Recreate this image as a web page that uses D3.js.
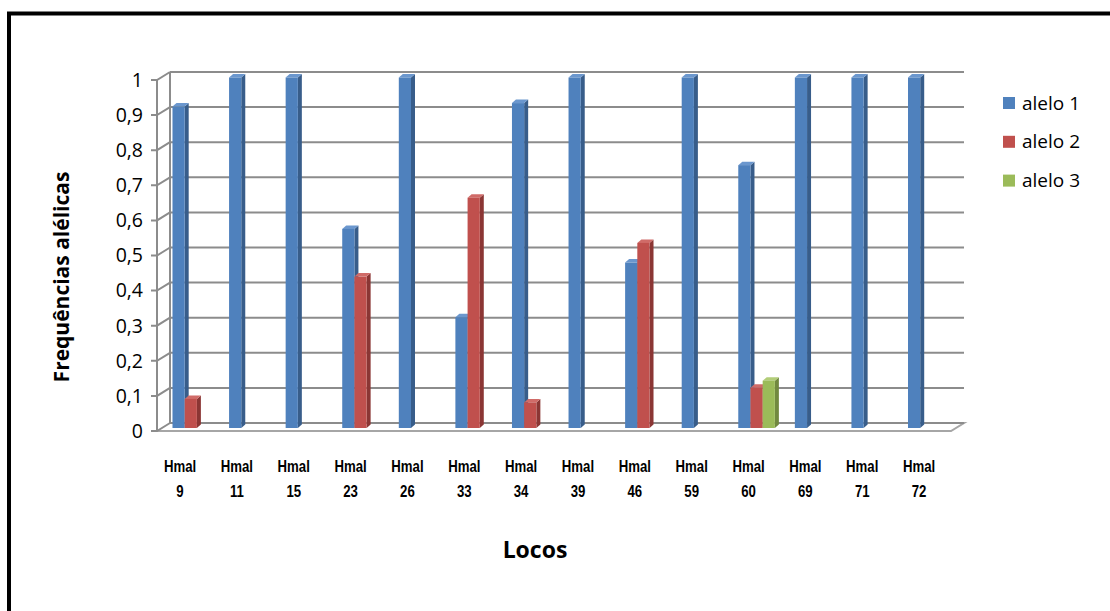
<!DOCTYPE html>
<html>
<head>
<meta charset="utf-8">
<script src="https://cdn.jsdelivr.net/npm/d3@7"></script>
<style>
html,body{margin:0;padding:0;background:#fff;}
svg{display:block;}
</style>
</head>
<body>
<svg id="chart" width="1110" height="611"></svg>
<script>
const categories = ["Hmal 9","Hmal 11","Hmal 15","Hmal 23","Hmal 26","Hmal 33","Hmal 34","Hmal 39","Hmal 46","Hmal 59","Hmal 60","Hmal 69","Hmal 71","Hmal 72"];
const seriesNames = ["alelo 1","alelo 2","alelo 3"];
const alelo1 = [0.917, 1, 1, 0.568, 1, 0.316, 0.927, 1, 0.472, 1, 0.75, 1, 1, 1];
const alelo2 = [0.083, 0, 0, 0.432, 0, 0.657, 0.073, 0, 0.528, 0, 0.115, 0, 0, 0];
const alelo3 = [0, 0, 0, 0, 0, 0, 0, 0, 0, 0, 0.135, 0, 0, 0];
const yTicks = [0,0.1,0.2,0.3,0.4,0.5,0.6,0.7,0.8,0.9,1];
const yTickLabels = ["0","0,1","0,2","0,3","0,4","0,5","0,6","0,7","0,8","0,9","1"];
const yTitle = "Frequências alélicas";
const xTitle = "Locos";

const colors = {
  "alelo 1": {front:"#4F81BD", side:"#385D8A", top:"#6B97CE"},
  "alelo 2": {front:"#C0504D", side:"#8B3634", top:"#D06B68"},
  "alelo 3": {front:"#9BBB59", side:"#71893F", top:"#B2CD78"}
};
const values = {"alelo 1": alelo1, "alelo 2": alelo2, "alelo 3": alelo3};

const svg = d3.select("#chart");

// outer frame
svg.append("rect").attr("x",9).attr("y",13.5).attr("width",1300).attr("height",800)
  .attr("fill","none").attr("stroke","#000").attr("stroke-width",4);

// geometry
const frontX = 157, backX = 170, rightBack = 964;
const depthDX = backX - frontX, depthDY = -8;
const yFront = d3.scaleLinear().domain([0,1]).range([431,80]);
const yBack = v => yFront(v) + depthDY;
const yBar = d3.scaleLinear().domain([0,1]).range([428,77.5]);
const xLabel = d3.scaleBand().domain(categories).range([151.6, 947.5]);
const xBar = d3.scaleBand().domain(categories).range([162.5, 954.6]);
const xSeries = d3.scaleBand().domain(seriesNames).range([0, 36.6]);
const gridColor = "#8c8c8c";

// floor
svg.append("path")
  .attr("d", `M${frontX},${yFront(0)} L${rightBack-depthDX},${yFront(0)} L${rightBack},${yBack(0)} L${backX},${yBack(0)}`)
  .attr("fill","none").attr("stroke","#a6a6a6").attr("stroke-width",2);

// back wall gridlines
svg.append("g").selectAll("line").data(yTicks).join("line")
  .attr("x1",backX).attr("x2",rightBack)
  .attr("y1",d=>yBack(d)).attr("y2",d=>yBack(d))
  .attr("stroke",gridColor).attr("stroke-width",2);

// left wall verticals
svg.append("line").attr("x1",backX).attr("x2",backX).attr("y1",yBack(1)).attr("y2",yBack(0))
  .attr("stroke",gridColor).attr("stroke-width",2);
svg.append("line").attr("x1",frontX).attr("x2",frontX).attr("y1",yFront(1)).attr("y2",yFront(0))
  .attr("stroke",gridColor).attr("stroke-width",2);

// ticks + side wall diagonals
const tg = svg.append("g");
tg.selectAll("path").data(yTicks).join("path")
  .attr("d",d=>`M${frontX-6},${yFront(d)} L${frontX},${yFront(d)} L${backX},${yBack(d)}`)
  .attr("fill","none").attr("stroke",gridColor).attr("stroke-width",2);
tg.selectAll("text").data(yTicks).join("text")
  .attr("x",143).attr("y",d=>yFront(d)).attr("dy","0.35em")
  .attr("text-anchor","end")
  .attr("font-family","'Open Sans', 'Noto Sans', sans-serif")
  .attr("font-size",19.5).attr("fill","#000")
  .text((d,i)=>yTickLabels[i]);

// bars
const dx = 4, dy = -3.5;
const barData = [];
categories.forEach((c,i)=>{
  seriesNames.forEach(s=>{
    const v = values[s][i];
    if (v > 0) barData.push({cat:c, s, v});
  });
});
const bw = xSeries.bandwidth();
const groupOffset = (xBar.bandwidth() - 36.6)/2;
svg.append("g").selectAll("g").data(barData).join("g").each(function(d){
  const g = d3.select(this);
  const x0 = xBar(d.cat) + groupOffset + xSeries(d.s);
  const yt = yBar(d.v), yb = yBar(0);
  const col = colors[d.s];
  g.append("path")
    .attr("d",`M${x0+bw},${yt} L${x0+bw+dx},${yt+dy} L${x0+bw+dx},${yb+dy} L${x0+bw},${yb} Z`)
    .attr("fill",col.side);
  g.append("path")
    .attr("d",`M${x0},${yt} L${x0+dx},${yt+dy} L${x0+bw+dx},${yt+dy} L${x0+bw},${yt} Z`)
    .attr("fill",col.top);
  g.append("rect").attr("x",x0).attr("y",yt).attr("width",bw).attr("height",yb-yt)
    .attr("fill",col.front);
});

// x labels (condensed look via horizontal scale)
const xl = svg.append("g").selectAll("g").data(categories).join("g")
  .attr("transform",d=>`translate(${xLabel(d)+xLabel.bandwidth()/2},0) scale(0.8,1)`);
const xt = xl.append("text")
  .attr("text-anchor","middle")
  .attr("font-family","'Liberation Sans', Arial, sans-serif")
  .attr("font-weight","bold").attr("font-size",16.5).attr("fill","#000");
xt.append("tspan").attr("x",0).attr("y",472).text(d=>d.split(" ")[0]);
xt.append("tspan").attr("x",0).attr("y",497).text(d=>d.split(" ")[1]);

// axis titles
svg.append("text").attr("transform","translate(69,277) rotate(-90)")
  .attr("text-anchor","middle")
  .attr("font-family","'Open Sans', 'Noto Sans', sans-serif")
  .attr("font-weight","bold").attr("font-size",21).attr("fill","#000")
  .text(yTitle);
svg.append("text").attr("x",535).attr("y",558)
  .attr("text-anchor","middle")
  .attr("font-family","'Open Sans', 'Noto Sans', sans-serif")
  .attr("font-weight","bold").attr("font-size",23).attr("fill","#000")
  .text(xTitle);

// legend
const leg = svg.append("g").selectAll("g").data(seriesNames).join("g")
  .attr("transform",(d,i)=>`translate(1003,${97+i*38.8})`);
leg.append("rect").attr("width",12).attr("height",12).attr("fill",d=>colors[d].front);
leg.append("text").attr("x",19).attr("y",12.5)
  .attr("font-family","'Open Sans', 'Noto Sans', sans-serif")
  .attr("font-size",19).attr("fill","#000").text(d=>d);
</script>
</body>
</html>
